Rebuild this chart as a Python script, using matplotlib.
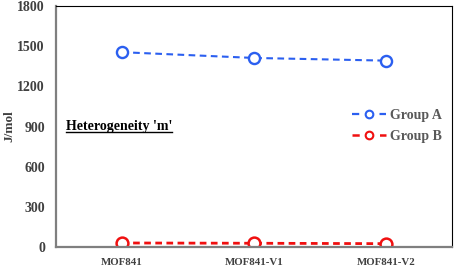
import matplotlib
matplotlib.use('Agg')
import matplotlib.pyplot as plt
from matplotlib.lines import Line2D

# data
samples = ['MOF841', 'MOF841-V1', 'MOF841-V2']
group_a = [1455, 1412, 1392]
group_b = [30, 28, 25]
yticks = [0, 300, 600, 900, 1200, 1500, 1800]

plt.rcParams['font.family'] = ['Liberation Serif', 'DejaVu Serif']
plt.rcParams['lines.scale_dashes'] = False

blue = '#2b5ff0'
red = '#f01010'

fig = plt.figure(figsize=(4.57, 2.66), dpi=100)
ax = fig.add_axes([56/457, 1-247/266, 396/457, 241/266])

x = range(len(samples))
ax.plot(x, group_a, linestyle=(0, (4.8, 3.2)), color=blue, lw=1.5,
        marker='o', markersize=8, markerfacecolor='white', markeredgewidth=1.7)
ax.plot(x, group_b, linestyle=(0, (4.8, 3.2)), color=red, lw=2.0,
        marker='o', markersize=8.5, markerfacecolor='white', markeredgewidth=1.8)

ax.set_xlim(-0.5, 2.5)
ax.set_ylim(0, 1800)
ax.set_xticks(list(x))
ax.set_xticklabels(samples, fontsize=7.8, fontweight='bold', color='#404040')
ax.set_yticks(yticks)
ax.set_yticklabels([str(v) for v in yticks], fontsize=10, fontweight='bold', color='#404040')
ax.tick_params(axis='y', length=0, pad=8)
ax.tick_params(axis='x', length=0, pad=8)
ax.set_ylabel('J/mol', fontsize=9.5, fontweight='bold', color='#404040', labelpad=1)

for s in ['left', 'bottom']:
    ax.spines[s].set_color('#7f7f7f')
    ax.spines[s].set_linewidth(1.6)
for s in ['top', 'right']:
    ax.spines[s].set_color('black')
    ax.spines[s].set_linewidth(0.8)

# legend handles: short dash - small circle - short dash
handles = [
    Line2D([], [], color=blue, lw=1.6, linestyle=(0, (5.2, 14.6)),
           marker='o', markersize=5.5, markerfacecolor='white', markeredgewidth=1.5),
    Line2D([], [], color=red, lw=1.8, linestyle=(0, (5.2, 14.6)),
           marker='o', markersize=5.5, markerfacecolor='white', markeredgewidth=1.5),
]
leg = ax.legend(handles, ['Group A', 'Group B'], loc='upper right',
                bbox_to_anchor=(1.0, 0.615), frameon=False,
                prop={'weight': 'bold', 'size': 10}, handlelength=2.5,
                labelspacing=0.6, handletextpad=0.3, borderaxespad=0.3)
for t in leg.get_texts():
    t.set_color('#595959')

txt = ax.text(0.025, 0.5, "Heterogeneity 'm'", transform=ax.transAxes,
              fontsize=10, fontweight='bold', color='black', va='center')

# underline the label
fig.canvas.draw()
bb = txt.get_window_extent().transformed(fig.transFigure.inverted())
fig.add_artist(Line2D([bb.x0, bb.x1], [bb.y0 + 0.004, bb.y0 + 0.004],
                      transform=fig.transFigure, color='black', lw=1.0))

plt.savefig('out.png', dpi=100)
